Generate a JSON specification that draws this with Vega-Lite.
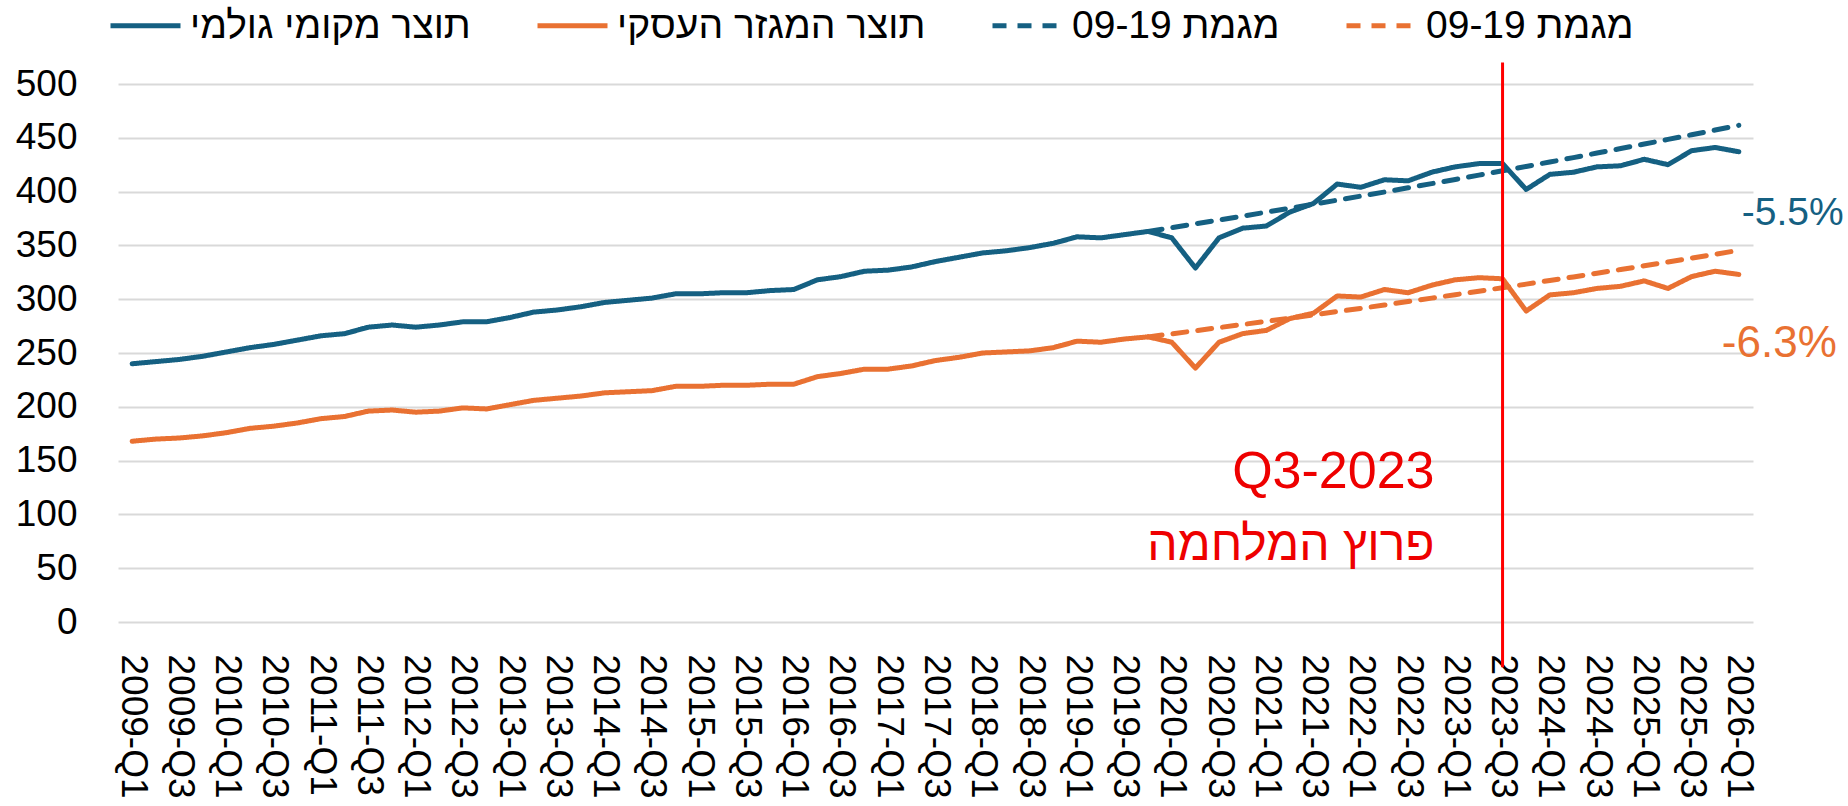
{
  "$schema": "https://vega.github.io/schema/vega-lite/v6.json",
  "autosize": {"type": "none"},
  "width": 1635,
  "height": 538,
  "padding": {"left": 118, "top": 84, "right": 95, "bottom": 184},
  "background": "white",
  "config": {
    "font": "Liberation Sans",
    "view": {"stroke": null}
  },
  "encoding": {
    "x": {
      "field": "q",
      "type": "ordinal",
      "scale": {"type": "point", "padding": 0.6},
      "axis": {
        "title": null,
        "values": ["2009-Q1","2009-Q3","2010-Q1","2010-Q3","2011-Q1","2011-Q3","2012-Q1","2012-Q3","2013-Q1","2013-Q3","2014-Q1","2014-Q3","2015-Q1","2015-Q3","2016-Q1","2016-Q3","2017-Q1","2017-Q3","2018-Q1","2018-Q3","2019-Q1","2019-Q3","2020-Q1","2020-Q3","2021-Q1","2021-Q3","2022-Q1","2022-Q3","2023-Q1","2023-Q3","2024-Q1","2024-Q3","2025-Q1","2025-Q3","2026-Q1"],
        "labelAngle": 90,
        "labelAlign": "left",
        "labelBaseline": "middle",
        "labelFontSize": 37,
        "labelColor": "#000000",
        "labelPadding": 32,
        "labelOverlap": false,
        "ticks": false,
        "tickSize": 0,
        "domain": false,
        "grid": false
      }
    },
    "y": {
      "field": "v",
      "type": "quantitative",
      "scale": {"domain": [0, 500], "nice": false, "zero": false},
      "axis": {
        "title": null,
        "values": [0, 50, 100, 150, 200, 250, 300, 350, 400, 450, 500],
        "labelFontSize": 37,
        "labelColor": "#000000",
        "labelPadding": 41,
        "ticks": false,
        "tickSize": 0,
        "domain": false,
        "grid": true,
        "gridColor": "#D9D9D9",
        "gridWidth": 2
      }
    }
  },
  "layer": [
    {
      "data": {
        "values": [
          {"q":"2009-Q1","gdp":240,"bus":168},
          {"q":"2009-Q2","gdp":242,"bus":170},
          {"q":"2009-Q3","gdp":244,"bus":171},
          {"q":"2009-Q4","gdp":247,"bus":173},
          {"q":"2010-Q1","gdp":251,"bus":176},
          {"q":"2010-Q2","gdp":255,"bus":180},
          {"q":"2010-Q3","gdp":258,"bus":182},
          {"q":"2010-Q4","gdp":262,"bus":185},
          {"q":"2011-Q1","gdp":266,"bus":189},
          {"q":"2011-Q2","gdp":268,"bus":191},
          {"q":"2011-Q3","gdp":274,"bus":196},
          {"q":"2011-Q4","gdp":276,"bus":197},
          {"q":"2012-Q1","gdp":274,"bus":195},
          {"q":"2012-Q2","gdp":276,"bus":196},
          {"q":"2012-Q3","gdp":279,"bus":199},
          {"q":"2012-Q4","gdp":279,"bus":198},
          {"q":"2013-Q1","gdp":283,"bus":202},
          {"q":"2013-Q2","gdp":288,"bus":206},
          {"q":"2013-Q3","gdp":290,"bus":208},
          {"q":"2013-Q4","gdp":293,"bus":210},
          {"q":"2014-Q1","gdp":297,"bus":213},
          {"q":"2014-Q2","gdp":299,"bus":214},
          {"q":"2014-Q3","gdp":301,"bus":215},
          {"q":"2014-Q4","gdp":305,"bus":219},
          {"q":"2015-Q1","gdp":305,"bus":219},
          {"q":"2015-Q2","gdp":306,"bus":220},
          {"q":"2015-Q3","gdp":306,"bus":220},
          {"q":"2015-Q4","gdp":308,"bus":221},
          {"q":"2016-Q1","gdp":309,"bus":221},
          {"q":"2016-Q2","gdp":318,"bus":228},
          {"q":"2016-Q3","gdp":321,"bus":231},
          {"q":"2016-Q4","gdp":326,"bus":235},
          {"q":"2017-Q1","gdp":327,"bus":235},
          {"q":"2017-Q2","gdp":330,"bus":238},
          {"q":"2017-Q3","gdp":335,"bus":243},
          {"q":"2017-Q4","gdp":339,"bus":246},
          {"q":"2018-Q1","gdp":343,"bus":250},
          {"q":"2018-Q2","gdp":345,"bus":251},
          {"q":"2018-Q3","gdp":348,"bus":252},
          {"q":"2018-Q4","gdp":352,"bus":255},
          {"q":"2019-Q1","gdp":358,"bus":261},
          {"q":"2019-Q2","gdp":357,"bus":260},
          {"q":"2019-Q3","gdp":360,"bus":263},
          {"q":"2019-Q4","gdp":363,"bus":265,"tg":363.0,"tb":265.0},
          {"q":"2020-Q1","gdp":357,"bus":260,"tg":366.5,"tb":267.8},
          {"q":"2020-Q2","gdp":329,"bus":236,"tg":370.1,"tb":270.7},
          {"q":"2020-Q3","gdp":357,"bus":260,"tg":373.6,"tb":273.6},
          {"q":"2020-Q4","gdp":366,"bus":268,"tg":377.2,"tb":276.5},
          {"q":"2021-Q1","gdp":368,"bus":271,"tg":380.9,"tb":279.4},
          {"q":"2021-Q2","gdp":381,"bus":282,"tg":384.6,"tb":282.4},
          {"q":"2021-Q3","gdp":389,"bus":287,"tg":388.3,"tb":285.4},
          {"q":"2021-Q4","gdp":407,"bus":303,"tg":392.0,"tb":288.5},
          {"q":"2022-Q1","gdp":404,"bus":302,"tg":395.8,"tb":291.5},
          {"q":"2022-Q2","gdp":411,"bus":309,"tg":399.6,"tb":294.6},
          {"q":"2022-Q3","gdp":410,"bus":306,"tg":403.5,"tb":297.8},
          {"q":"2022-Q4","gdp":418,"bus":313,"tg":407.4,"tb":301.0},
          {"q":"2023-Q1","gdp":423,"bus":318,"tg":411.3,"tb":304.2},
          {"q":"2023-Q2","gdp":426,"bus":320,"tg":415.3,"tb":307.4},
          {"q":"2023-Q3","gdp":426,"bus":319,"tg":419.3,"tb":310.7},
          {"q":"2023-Q4","gdp":402,"bus":289,"tg":423.4,"tb":314.0},
          {"q":"2024-Q1","gdp":416,"bus":304,"tg":427.5,"tb":317.4},
          {"q":"2024-Q2","gdp":418,"bus":306,"tg":431.6,"tb":320.7},
          {"q":"2024-Q3","gdp":423,"bus":310,"tg":435.8,"tb":324.2},
          {"q":"2024-Q4","gdp":424,"bus":312,"tg":440.0,"tb":327.6},
          {"q":"2025-Q1","gdp":430,"bus":317,"tg":444.2,"tb":331.1},
          {"q":"2025-Q2","gdp":425,"bus":310,"tg":448.5,"tb":334.6},
          {"q":"2025-Q3","gdp":438,"bus":321,"tg":452.8,"tb":338.2},
          {"q":"2025-Q4","gdp":441,"bus":326,"tg":457.2,"tb":341.8},
          {"q":"2026-Q1","gdp":437,"bus":323,"tg":461.6,"tb":345.4}
        ]
      },
      "transform": [
        {"fold": ["gdp", "bus", "tg", "tb"], "as": ["s", "v"]},
        {"filter": "isValid(datum.v)"}
      ],
      "mark": {"type": "line", "strokeWidth": 5, "strokeCap": "round", "strokeJoin": "round"},
      "encoding": {
        "color": {
          "field": "s",
          "type": "nominal",
          "scale": {"domain": ["gdp", "bus", "tg", "tb"], "range": ["#156082", "#E97132", "#156082", "#E97132"]},
          "legend": {
            "title": null,
            "orient": "none",
            "direction": "horizontal",
            "columns": 4,
            "legendX": -10,
            "legendY": -96,
            "symbolType": "stroke",
            "symbolSize": 4900,
            "symbolStrokeWidth": 5,
            "labelFontSize": 39,
            "labelColor": "#000000",
            "labelOffset": 7,
            "columnPadding": 56,
            "labelLimit": 0,
            "labelExpr": "datum.label == 'gdp' ? 'תוצר מקומי גולמי' : datum.label == 'bus' ? 'תוצר המגזר העסקי' : '09-19 מגמת'"
          }
        },
        "strokeDash": {
          "field": "s",
          "type": "nominal",
          "scale": {"domain": ["gdp", "bus", "tg", "tb"], "range": [[1, 0], [1, 0], [14, 11], [14, 11]]},
          "legend": null
        }
      }
    },
    {
      "data": {"values": [{"q": "2023-Q3", "v": 520, "v2": -42}]},
      "mark": {"type": "rule", "color": "#FF0000", "strokeWidth": 3},
      "encoding": {"y2": {"field": "v2"}}
    },
    {
      "data": {"values": [{"q": "2023-Q3", "v": 125, "t": "Q3-2023"}]},
      "mark": {"type": "text", "align": "right", "baseline": "alphabetic", "dx": -68, "fontSize": 52, "color": "#EE0000"},
      "encoding": {"text": {"field": "t"}}
    },
    {
      "data": {"values": [{"q": "2023-Q3", "v": 57.5, "t": "פרוץ המלחמה"}]},
      "mark": {"type": "text", "align": "right", "baseline": "alphabetic", "dx": -68, "fontSize": 48, "color": "#EE0000"},
      "encoding": {"text": {"field": "t"}}
    },
    {
      "data": {"values": [{"q": "2026-Q1", "v": 380, "t": "-5.5%"}]},
      "mark": {"type": "text", "align": "left", "baseline": "middle", "dx": 3, "fontSize": 39, "color": "#156082"},
      "encoding": {"text": {"field": "t"}}
    },
    {
      "data": {"values": [{"q": "2026-Q1", "v": 258, "t": "-6.3%"}]},
      "mark": {"type": "text", "align": "left", "baseline": "middle", "dx": -17, "fontSize": 44, "color": "#E97132"},
      "encoding": {"text": {"field": "t"}}
    }
  ]
}
